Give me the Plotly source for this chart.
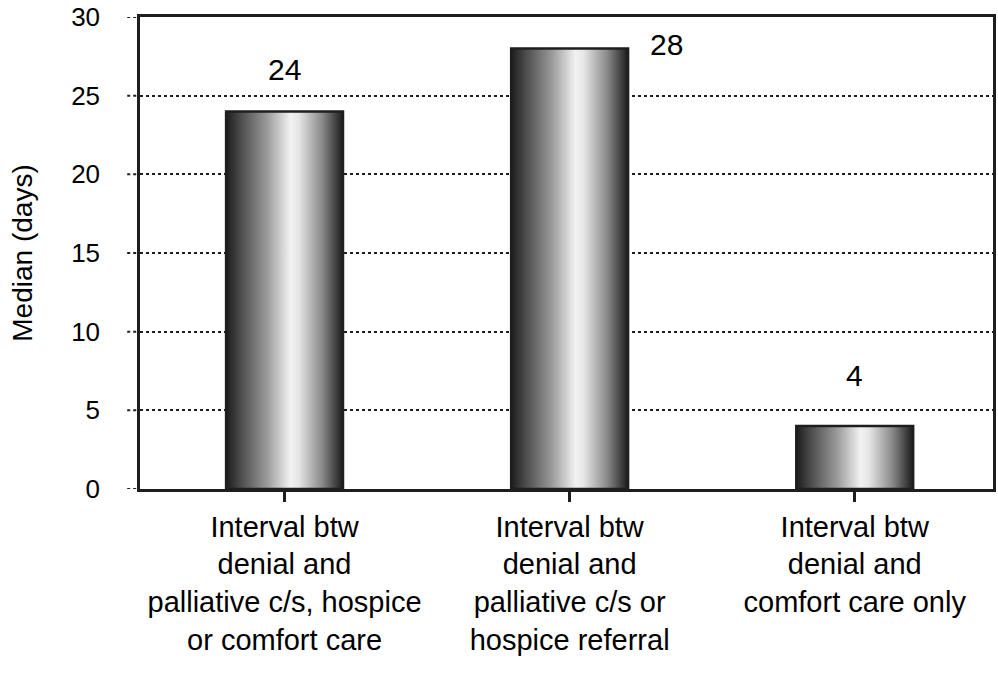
import plotly.graph_objects as go

categories = [
    "Interval btw<br>denial and<br>palliative c/s, hospice<br>or comfort care",
    "Interval btw<br>denial and<br>palliative c/s or<br>hospice referral",
    "Interval btw<br>denial and<br>comfort care only",
]
median_days = [24, 28, 4]
y_ticks = [0, 5, 10, 15, 20, 25, 30]

FONT = "Liberation Sans Narrow, Arial Narrow, Liberation Sans, Arial, sans-serif"
DARK = "#1e1e1e"
BAR_W = 0.41

fig = go.Figure()

# gradient bars drawn as filled polygons in data coordinates
for i, v in enumerate(median_days):
    x0, x1 = i - BAR_W / 2, i + BAR_W / 2
    fig.add_trace(go.Scatter(
        x=[x0, x1, x1, x0, x0],
        y=[0, 0, v, v, 0],
        mode="lines",
        fill="toself",
        fillgradient=dict(
            type="horizontal",
            colorscale=[
                [0.0, "#1c1c1c"],
                [0.12, "#4a4a4a"],
                [0.35, "#9a9a9a"],
                [0.55, "#f2f2f2"],
                [0.62, "#e6e6e6"],
                [0.82, "#8a8a8a"],
                [0.95, "#3a3a3a"],
                [1.0, "#1c1c1c"],
            ],
        ),
        line=dict(color=DARK, width=2.5),
        hoverinfo="skip",
        showlegend=False,
    ))

# value labels
label_shift = [(0, 42), (97, 4), (0, 51)]
for i, v in enumerate(median_days):
    dx, dy = label_shift[i]
    fig.add_annotation(
        x=i, y=v, text=str(v), showarrow=False,
        xshift=dx, yshift=dy,
        font=dict(family=FONT, size=30, color="#000"),
    )

# dotted tick marks on the left of the y-axis
shapes = []
for t in y_ticks:
    shapes.append(dict(
        type="line", xref="paper", yref="y",
        x0=-0.015, x1=0, y0=t, y1=t,
        line=dict(color=DARK, width=2, dash="dot"),
        layer="below",
    ))

fig.update_layout(
    width=998, height=676,
    margin=dict(l=140, r=5, t=17, b=187, autoexpand=False),
    paper_bgcolor="white", plot_bgcolor="white",
    shapes=shapes,
    font=dict(family=FONT, color="#000"),
    xaxis=dict(
        range=[-0.507, 2.485],
        tickvals=[0, 1, 2],
        ticktext=categories,
        tickfont=dict(family=FONT, size=29, color="#000"),
        ticks="outside", ticklen=10, tickwidth=2.5, tickcolor=DARK,
        showline=True, linecolor=DARK, linewidth=2.5, mirror=True,
        showgrid=False, zeroline=False, automargin=False,
    ),
    yaxis=dict(
        range=[0, 30],
        tickvals=y_ticks,
        tickfont=dict(family=FONT, size=26, color="#000"),
        ticks="", ticklabelstandoff=32,
        showline=True, linecolor=DARK, linewidth=2.5, mirror=True,
        showgrid=True, gridcolor=DARK, gridwidth=1.8, griddash="dot",
        zeroline=False, automargin=False,
        title=dict(text="Median (days)", font=dict(family=FONT, size=28, color="#000"), standoff=31),
    ),
)

fig.write_html(
    "out.html",
    config={"displayModeBar": False},
    post_script="document.body.style.margin='0';",
)
